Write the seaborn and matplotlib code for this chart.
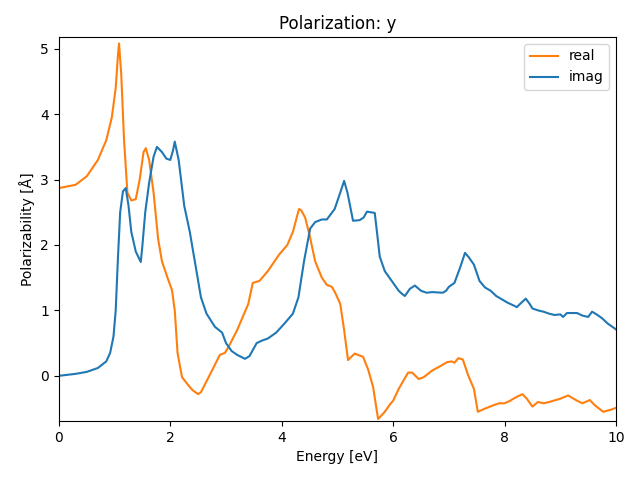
import matplotlib
matplotlib.use("Agg")
import matplotlib.pyplot as plt
import seaborn as sns

# energy grid / values
real_energy = [0.0, 0.3, 0.5, 0.7, 0.85, 0.95, 1.02, 1.06, 1.08, 1.12, 1.17, 1.23, 1.3, 1.38,
               1.45, 1.52, 1.56, 1.62, 1.7, 1.78, 1.85, 1.95, 2.03, 2.08, 2.13, 2.21, 2.32,
               2.4, 2.5, 2.55, 2.7, 2.89, 2.98, 3.05, 3.2, 3.4, 3.48, 3.6, 3.75, 3.95, 4.1,
               4.2, 4.31, 4.35, 4.42, 4.5, 4.6, 4.72, 4.81, 4.9, 4.96, 5.05, 5.12, 5.19,
               5.31, 5.46, 5.55, 5.64, 5.7, 5.73, 5.85, 5.94, 6.0, 6.1, 6.2, 6.27, 6.34,
               6.46, 6.55, 6.7, 6.85, 6.97, 7.05, 7.1, 7.17, 7.25, 7.35, 7.45, 7.52, 7.65,
               7.8, 7.9, 8.0, 8.1, 8.2, 8.32, 8.4, 8.5, 8.6, 8.7, 8.8, 9.0, 9.14, 9.3,
               9.4, 9.53, 9.62, 9.77, 9.9, 10.0]
real_vals = [2.87, 2.92, 3.05, 3.3, 3.6, 3.95, 4.4, 4.9, 5.08, 4.6, 3.6, 2.8, 2.68, 2.7,
             3.0, 3.42, 3.48, 3.3, 2.8, 2.1, 1.75, 1.5, 1.31, 1.0, 0.35, -0.02, -0.14,
             -0.22, -0.28, -0.25, 0.0, 0.32, 0.35, 0.45, 0.7, 1.1, 1.42, 1.45, 1.6, 1.85, 2.0,
             2.2, 2.55, 2.53, 2.42, 2.15, 1.75, 1.5, 1.39, 1.36, 1.27, 1.1, 0.7, 0.24,
             0.34, 0.29, 0.1, -0.17, -0.5, -0.66, -0.55, -0.44, -0.38, -0.2, -0.05, 0.05, 0.05,
             -0.05, -0.02, 0.08, 0.15, 0.21, 0.22, 0.2, 0.27, 0.25, 0.0, -0.2, -0.55, -0.5,
             -0.45, -0.42, -0.42, -0.38, -0.33, -0.28, -0.35, -0.47, -0.4, -0.42, -0.4, -0.35, -0.3, -0.38,
             -0.42, -0.37, -0.45, -0.55, -0.52, -0.49]

imag_energy = [0.0, 0.3, 0.5, 0.7, 0.85, 0.92, 0.98, 1.02, 1.06, 1.1, 1.15, 1.2, 1.25, 1.3,
               1.38, 1.47, 1.5, 1.55, 1.62, 1.7, 1.76, 1.85, 1.93, 2.0, 2.05, 2.08, 2.15,
               2.25, 2.35, 2.45, 2.55, 2.65, 2.8, 2.93, 3.0, 3.1, 3.2, 3.34, 3.42, 3.55, 3.65,
               3.75, 3.9, 4.05, 4.2, 4.3, 4.4, 4.51, 4.6, 4.72, 4.81, 4.95, 5.05, 5.12,
               5.18, 5.28, 5.4, 5.47, 5.53, 5.6, 5.67, 5.76, 5.85, 6.0, 6.1, 6.15, 6.21,
               6.3, 6.39, 6.5, 6.6, 6.7, 6.89, 6.95, 7.0, 7.1, 7.2, 7.29, 7.35, 7.45, 7.55,
               7.65, 7.75, 7.85, 7.95, 8.05, 8.15, 8.22, 8.28, 8.38, 8.45, 8.5, 8.6, 8.7,
               8.8, 8.9, 9.0, 9.05, 9.12, 9.3, 9.4, 9.5, 9.57, 9.65, 9.75, 9.85, 10.0]
imag_vals = [0.0, 0.03, 0.06, 0.12, 0.22, 0.35, 0.6, 1.0, 1.8, 2.5, 2.82, 2.87, 2.6, 2.2,
             1.9, 1.74, 2.0, 2.5, 2.95, 3.35, 3.5, 3.42, 3.32, 3.3, 3.45, 3.58, 3.3,
             2.6, 2.2, 1.7, 1.2, 0.95, 0.75, 0.66, 0.5, 0.38, 0.32, 0.26, 0.3, 0.5, 0.54,
             0.57, 0.66, 0.8, 0.95, 1.2, 1.75, 2.25, 2.35, 2.39, 2.39, 2.55, 2.8, 2.98,
             2.8, 2.37, 2.38, 2.42, 2.51, 2.5, 2.49, 1.82, 1.6, 1.42, 1.3, 1.26, 1.22,
             1.33, 1.38, 1.3, 1.27, 1.28, 1.27, 1.3, 1.36, 1.42, 1.65, 1.88, 1.82, 1.7, 1.45,
             1.35, 1.3, 1.22, 1.17, 1.12, 1.08, 1.05, 1.1, 1.18, 1.1, 1.03, 1.0, 0.98,
             0.95, 0.93, 0.94, 0.9, 0.96, 0.96, 0.92, 0.9, 0.98, 0.94, 0.88, 0.8, 0.71]

fig, ax = plt.subplots(figsize=(6.4, 4.8))
sns.lineplot(x=real_energy, y=real_vals, color="C1", label="real", ax=ax)
sns.lineplot(x=imag_energy, y=imag_vals, color="C0", label="imag", ax=ax)
ax.set_xlim(0, 10)
ax.set_ylim(-0.69, 5.18)
ax.set_xlabel("Energy [eV]")
ax.set_ylabel("Polarizability [Å]")
ax.set_title("Polarization: y")
ax.legend(loc="upper right")
fig.subplots_adjust(left=0.092, right=0.9625, bottom=0.123, top=0.923)
fig.savefig("out.png", dpi=100)
